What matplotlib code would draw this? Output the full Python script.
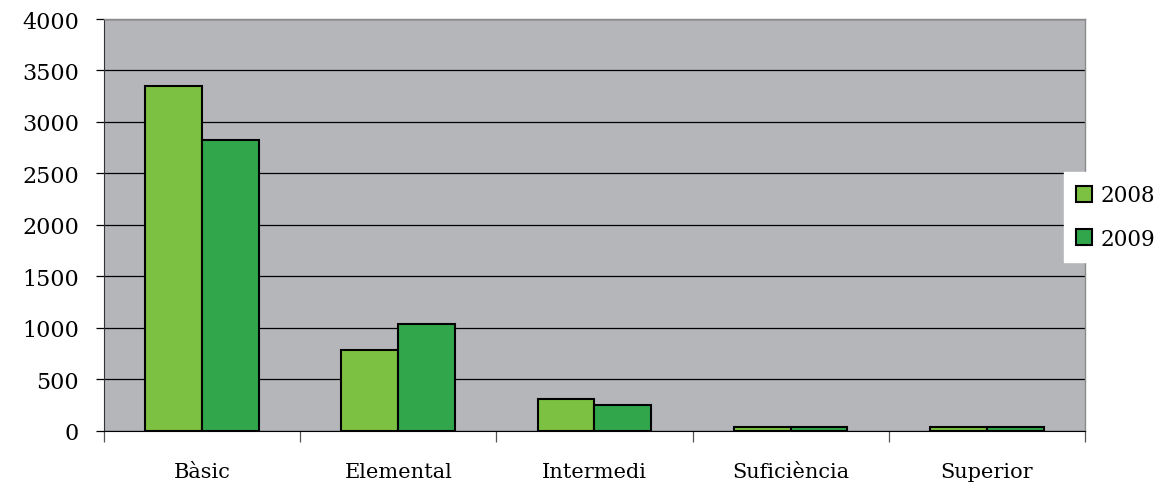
import matplotlib.pyplot as plt
import numpy as np

categories = ['Bàsic', 'Elemental', 'Intermedi', 'Suficiència', 'Superior']
years = ['2008', '2009']
vals_2008 = [3350, 786, 308, 40, 40]
vals_2009 = [2825, 1040, 250, 40, 40]
colors = ['#7DC142', '#31A64B']

plt.rcParams['font.family'] = ['DejaVu Serif']

fig = plt.figure(figsize=(11.69, 4.89), dpi=100)
ax = fig.add_axes([0.089, 0.1166, 0.839, 0.8425])
ax.set_facecolor('#B5B6BA')

x = np.arange(len(categories))
w = 0.29
ax.bar(x - w / 2, vals_2008, w, color=colors[0], edgecolor='black', linewidth=1.5, label=years[0], zorder=3)
ax.bar(x + w / 2, vals_2009, w, color=colors[1], edgecolor='black', linewidth=1.5, label=years[1], zorder=3)

ax.set_xlim(-0.5, len(categories) - 0.5)
ax.set_ylim(0, 4000)
ax.set_yticks(np.arange(0, 4001, 500))
ax.yaxis.grid(True, color='black', linewidth=0.9, zorder=1)
ax.set_axisbelow(True)

ax.set_xticks(x)
ax.set_xticklabels(categories, fontsize=15)
ax.set_xticks(np.arange(-0.5, len(categories), 1), minor=True)
ax.tick_params(axis='x', which='major', length=0, pad=22)
ax.tick_params(axis='x', which='minor', length=8, width=0.9, color='#555555')
ax.tick_params(axis='y', length=6, width=0.9, labelsize=16, pad=12)

for s in ['top', 'right']:
    ax.spines[s].set_color('#8A8A8A')
    ax.spines[s].set_linewidth(1.0)
ax.spines['left'].set_color('#333333')
ax.spines['bottom'].set_color('black')

leg = ax.legend(loc='center left', bbox_to_anchor=(0.910, 0.554), bbox_transform=fig.transFigure,
                frameon=True, fontsize=15.5, handlelength=0.75, handleheight=0.75, handletextpad=0.4,
                borderpad=0.55, labelspacing=1.0, fancybox=False, borderaxespad=0)
leg.get_frame().set_edgecolor('white')
leg.get_frame().set_facecolor('white')
leg.get_frame().set_alpha(1.0)
for h in leg.legend_handles:
    h.set_linewidth(1.5)

fig.savefig('out.png', dpi=100)
